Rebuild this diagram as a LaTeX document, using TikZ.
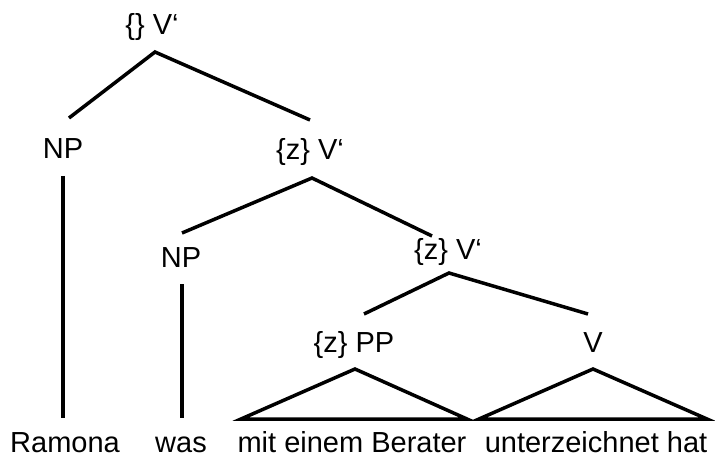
\documentclass[tikz,border=0pt]{standalone}
\usepackage{fontspec}
\setmainfont{Liberation Sans}
\begin{document}
\begin{tikzpicture}[x=1pt,y=-1pt,
  lab/.style={anchor=base,inner sep=0pt,font=\fontsize{29}{32}\selectfont},
  edge/.style={line width=3.5pt,line join=miter}]
\useasboundingbox (0,0) rectangle (715,457);
% labels
\node[lab] (root) at (152,35) {\{\} V‘};
\node[lab] (np1) at (63,159) {NP};
\node[lab] (v2) at (310,160) {\{z\} V‘};
\node[lab] (np2) at (181,267) {NP};
\node[lab] (v3) at (448,260) {\{z\} V‘};
\node[lab] (pp) at (354,352) {\{z\} PP};
\node[lab] (v) at (593,352) {V};
\node[lab] (w1) at (65,452) {Ramona};
\node[lab] (w2) at (181,452) {was};
\node[lab] (w3) at (352,452) {mit einem Berater};
\node[lab] (w4) at (596,452) {unterzeichnet hat};
% connector points
\coordinate (a1) at (155,52);
\coordinate (a1l) at (69,118);
\coordinate (a1r) at (310,120);
\coordinate (n1t) at (63,176);
\coordinate (n1b) at (63,418);
\coordinate (a2) at (312,178);
\coordinate (a2l) at (182,233);
\coordinate (a2r) at (432,236);
\coordinate (n2t) at (182,284);
\coordinate (n2b) at (182,418);
\coordinate (a3) at (449,273);
\coordinate (a3l) at (364,314);
\coordinate (a3r) at (588,314);
\coordinate (t1) at (355,369);
\coordinate (t1l) at (241,419);
\coordinate (t1r) at (467,419);
\coordinate (t2) at (593,369);
\coordinate (t2l) at (479,419);
\coordinate (t2r) at (707,419);
% connectors
\draw[edge] (a1l) -- (a1) -- (a1r);
\draw[edge] (n1t) -- (n1b);
\draw[edge] (a2l) -- (a2) -- (a2r);
\draw[edge] (n2t) -- (n2b);
\draw[edge] (a3l) -- (a3) -- (a3r);
\draw[edge] (t1) -- (t1l) -- (t1r) -- cycle;
\draw[edge] (t2) -- (t2l) -- (t2r) -- cycle;
\end{tikzpicture}
\end{document}
